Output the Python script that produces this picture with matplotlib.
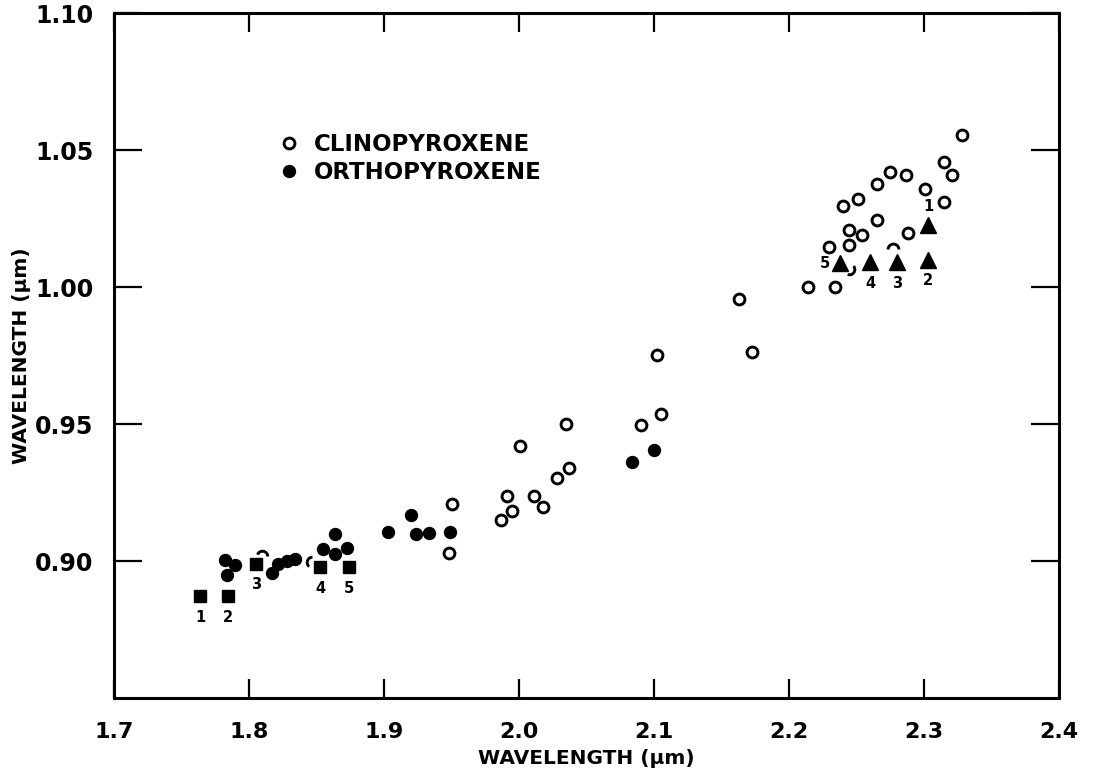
import matplotlib.pyplot as plt
from matplotlib.path import Path

# clinopyroxene band centres (open circles)
clino_x = [1.9506, 1.9481, 1.9909, 1.9946, 1.9864, 2.0007, 2.0113, 2.0180, 2.0284, 2.0373,
           2.0348, 2.0904, 2.1052, 2.1020, 2.1724, 2.1632, 2.2139, 2.2341, 2.2296, 2.2447,
           2.2539, 2.2447, 2.2402, 2.2513, 2.2650, 2.2748, 2.2867, 2.2654, 2.3007, 2.3148,
           2.3205, 2.3148, 2.3279, 2.2884]
clino_y = [0.9208, 0.9029, 0.9236, 0.9183, 0.9150, 0.9418, 0.9238, 0.9196, 0.9302, 0.9341,
           0.9499, 0.9497, 0.9538, 0.9752, 0.9764, 0.9955, 0.9999, 0.9999, 1.0146, 1.0207,
           1.0191, 1.0155, 1.0297, 1.0322, 1.0377, 1.0418, 1.0410, 1.0246, 1.0358, 1.0458,
           1.0407, 1.0309, 1.0553, 1.0197]

# orthopyroxene band centres (filled circles)
ortho_x = [1.7822, 1.7896, 1.7835, 1.8168, 1.8217, 1.8279, 1.8341, 1.8550, 1.8637, 1.8637,
           1.8728, 1.9032, 1.9198, 1.9235, 1.9336, 1.9489, 2.0839, 2.1000]
ortho_y = [0.9004, 0.8987, 0.8949, 0.8956, 0.8989, 0.9001, 0.9007, 0.9044, 0.9098, 0.9026,
           0.9046, 0.9105, 0.9168, 0.9098, 0.9101, 0.9105, 0.9363, 0.9405]

# clino points partly hidden behind other symbols (centre, visible arc in degrees)
arc_x = [1.8096, 1.8467, 2.2444, 2.2768]
arc_y = [0.9018, 0.8996, 1.0064, 1.0140]
arc_span = [(0, 160), (90, 230), (-110, 40), (0, 180)]

# numbered orthopyroxene samples (squares)
sq_x = [1.7637, 1.7847, 1.8052, 1.8526, 1.8743]
sq_y = [0.8871, 0.8871, 0.8989, 0.8977, 0.8977]
sq_lbl = ['1', '2', '3', '4', '5']

# numbered clinopyroxene samples (triangles)
tri_x = [2.3032, 2.3032, 2.2798, 2.2600, 2.2378]
tri_y = [1.0228, 1.0098, 1.0090, 1.0090, 1.0086]
tri_lbl = ['1', '2', '3', '4', '5']

x_ticks = [1.7, 1.8, 1.9, 2.0, 2.1, 2.2, 2.3, 2.4]
y_ticks = [0.90, 0.95, 1.00, 1.05, 1.10]

fig = plt.figure(figsize=(10.94, 7.77), dpi=100)
ax = fig.add_axes([114 / 1094, 79 / 777, 945 / 1094, 685 / 777])

ax.plot(clino_x, clino_y, 'o', ms=7.8, mfc='white', mec='black', mew=2.1, ls='none',
        label='CLINOPYROXENE', zorder=3)
ax.plot(ortho_x, ortho_y, 'o', ms=8.6, mfc='black', mec='black', ls='none',
        label='ORTHOPYROXENE', zorder=3)

for x, y, (t1, t2) in zip(arc_x, arc_y, arc_span):
    ax.plot(x, y, marker=Path.arc(t1, t2), ms=7.8, mfc='none', mec='black', mew=2.1,
            ls='none', zorder=2)

ax.plot(sq_x, sq_y, 's', ms=9, mfc='black', mec='black', ls='none', zorder=4)
ax.plot(tri_x, tri_y, '^', ms=11, mfc='black', mec='black', ls='none', zorder=4)

num_font = dict(fontsize=10.5, fontweight='bold', family='DejaVu Sans')
for x, y, s in zip(sq_x, sq_y, sq_lbl):
    ax.annotate(s, (x, y), xytext=(0, -15), textcoords='offset points',
                ha='center', va='center', **num_font)

tri_off = {'1': (0, 13), '2': (0, -15), '3': (0, -15), '4': (0, -15), '5': (-11, 0)}
for x, y, s in zip(tri_x, tri_y, tri_lbl):
    ax.annotate(s, (x, y), xytext=tri_off[s], textcoords='offset points',
                ha='center', va='center', **num_font)

ax.set_xlim(1.7, 2.4)
ax.set_ylim(0.85, 1.10)
ax.set_xticks(x_ticks)
ax.set_xticklabels([f'{v:.1f}' for v in x_ticks], fontsize=16, fontweight='bold')
ax.set_yticks(y_ticks)
ax.set_yticklabels([f'{v:.2f}' for v in y_ticks], fontsize=17, fontweight='bold')

for sp in ax.spines.values():
    sp.set_linewidth(2.2)
ax.tick_params(axis='both', direction='in', width=1.6, top=True, right=True)
ax.tick_params(axis='x', length=14, pad=17)
ax.tick_params(axis='y', length=20, pad=15)

ax.set_xlabel('WAVELENGTH (μm)', fontsize=14.5, fontweight='bold', labelpad=5)
ax.set_ylabel('WAVELENGTH (μm)', fontsize=14.5, fontweight='bold', labelpad=3)

ax.legend(loc='upper left', bbox_to_anchor=(0.168, 0.838), frameon=False,
          prop=dict(size=16.5, weight='bold'), handlelength=0.6, handletextpad=0.8,
          labelspacing=0.2, borderaxespad=0)

fig.savefig('out.png', dpi=100)
